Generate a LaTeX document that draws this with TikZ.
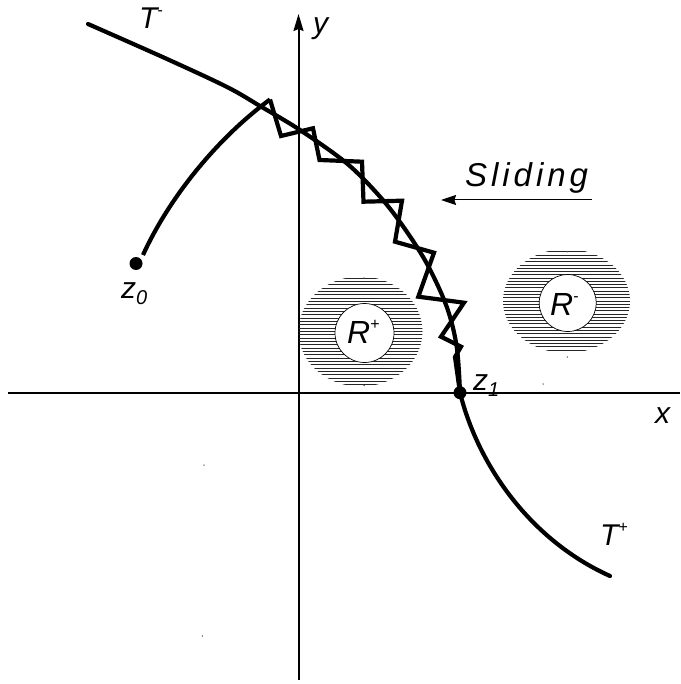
\documentclass[tikz,border=0pt]{standalone}
\usepackage{fontspec}
\setmainfont{Liberation Sans}
\usetikzlibrary{arrows.meta}
\newcommand\mysup[1]{\raisebox{0.42em}{\fontsize{16}{16}\selectfont\upshape #1}}
\newcommand\mysub[1]{\raisebox{-0.22em}{\fontsize{20}{20}\selectfont #1}}
\begin{document}
\begin{tikzpicture}[x=1pt,y=-1pt,
  lbl/.style={font=\fontsize{30}{30}\selectfont\itshape, inner sep=0pt, anchor=base west},
  rlbl/.style={font=\fontsize{32}{32}\selectfont\itshape, inner sep=0pt, anchor=base west},
  axis/.style={line width=2pt},
  curve/.style={line width=4.2pt, line cap=round, line join=round},
  zig/.style={line width=4.2pt, line join=miter, miter limit=4},
  hatch/.style={line width=0.9pt, black!85},
  dot/.style={circle, fill=black, inner sep=0pt, minimum size=13pt},
  speck/.style={circle, fill=black!70, inner sep=0pt, minimum size=1.5pt}]
\useasboundingbox (0,0) rectangle (680,684);

% axes
\coordinate (xl) at (8,392.7);
\coordinate (xr) at (680,392.7);
\coordinate (yb) at (298.5,680);
\coordinate (yt) at (298.5,14);
\draw[axis] (xl) -- (xr);
\draw[axis, -{Stealth[length=17pt,width=10pt,inset=2pt]}] (yb) -- (yt);

% hatched regions
\begin{scope}
  \clip (360.5,331.5) ellipse [x radius=62, y radius=55];
  \foreach \i in {-16,...,16} \draw[hatch] (290,{331.5+3.33*\i}) -- (430,{331.5+3.33*\i});
\end{scope}
\node[circle, draw, fill=white, line width=0.7pt, minimum size=59pt, inner sep=0pt] (cplus) at (364.5,333) {};
\begin{scope}
  \clip (566.5,301) ellipse [x radius=63.5, y radius=52];
  \foreach \i in {-15,...,15} \draw[hatch] (495,{301+3.27*\i}) -- (640,{301+3.27*\i});
\end{scope}
\node[circle, draw, fill=white, line width=0.7pt, minimum size=57pt, inner sep=0pt] (cminus) at (567.7,303) {};

\node[dot] (z0) at (136,263.5) {};
\node[dot] (z1) at (460,392.7) {};

% curve T
\draw[curve] plot[smooth, tension=0.55] coordinates {
  (88,24) (167,59) (227,87) (260,106) (300,130) (346.7,163.3) (380,196.7)
  (403.3,226.7) (426.7,263.3) (446.7,306.7) (456.7,346.7) (460,392.7)};
\coordinate (tend) at (610,576);
\draw[curve] (z1.center) .. controls (478,465) and (530,540) .. (tend);

% zigzag points
\coordinate (p0) at (270,99.5);
\coordinate (p1) at (281,136);
\coordinate (p2) at (313,128.3);
\coordinate (p3) at (319.5,160);
\coordinate (p4) at (362,161.7);
\coordinate (p5) at (363.5,201.7);
\coordinate (p6) at (402,200.7);
\coordinate (p7) at (395,241.7);
\coordinate (p8) at (434,252.7);
\coordinate (p9) at (418.3,296.7);
\coordinate (p10) at (464,302.7);
\coordinate (p11) at (441,336.7);
\coordinate (p12) at (461,346.7);
\coordinate (p13) at (455,357);

\coordinate (a0) at (143,255);

% trajectory from z0
\draw[curve, line cap=butt] (a0) .. controls (168,200) and (215,140) .. (p0);
\draw[zig] (p0) -- (p1) -- (p2) -- (p3) -- (p4) -- (p5) -- (p6) -- (p7) -- (p8)
  -- (p9) -- (p10) -- (p11) -- (p12) -- (p13) -- (z1.center);

% sliding arrow
\coordinate (s1) at (592,200);
\coordinate (s0) at (441,200);
\draw[line width=1pt, -{Stealth[length=15pt,width=10pt,inset=1.5pt]}] (s1) -- (s0);
\node[font=\fontsize{33}{33}\selectfont\itshape\addfontfeatures{LetterSpace=12}, inner sep=0pt, anchor=base west] (sl) at (465,186.7) {Sliding};

% labels
\node[lbl] (tm) at (139,28.5) {T\mysup{-}};
\node[lbl] (ly) at (313,33.7) {y};
\node[lbl] (lx) at (655,423) {x};
\node[lbl] (lz0) at (121,298) {z\mysub{0}};
\node[lbl] (lz1) at (473,390) {z\mysub{1}};
\node[rlbl] (rp) at (347,343) {R\mysup{+}};
\node[rlbl] (rm) at (550,315) {R\mysup{-}};
\node[lbl] (tp) at (600,545) {T\mysup{+}};

% specks
\node[speck] (d1) at (364,278) {};
\node[speck] (d2) at (364,385.5) {};
\node[speck] (d3) at (567.3,251.7) {};
\node[speck] (d4) at (567.3,357) {};
\node[speck] (d5) at (204,465) {};
\node[speck] (d6) at (202.3,636) {};
\node[speck] (d7) at (543,384) {};
\end{tikzpicture}
\end{document}
